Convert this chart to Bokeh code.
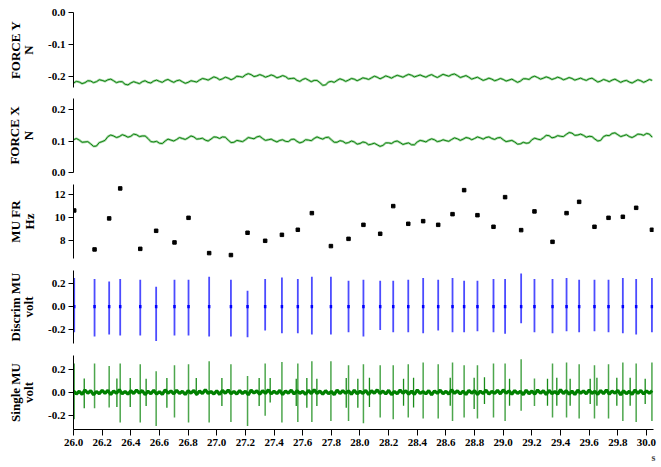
from bokeh.plotting import figure
from bokeh.layouts import column
from bokeh.models import Range1d, FixedTicker, PrintfTickFormatter, ColumnDataSource
from bokeh.embed import file_html
from bokeh.resources import INLINE

# ---------------- data ----------------
X_TICKS = [26.0, 26.2, 26.4, 26.6, 26.8, 27.0, 27.2, 27.4, 27.6, 27.8, 28.0,
           28.2, 28.4, 28.6, 28.8, 29.0, 29.2, 29.4, 29.6, 29.8, 30.0]

FORCE_T0 = 26.0
FORCE_DT = 0.02
force_y = [-0.219, -0.214, -0.216, -0.221, -0.218, -0.212, -0.213, -0.218, -0.215, -0.209,
           -0.211, -0.214, -0.209, -0.207, -0.212, -0.218, -0.215, -0.215, -0.223, -0.225,
           -0.219, -0.215, -0.218, -0.221, -0.215, -0.212, -0.217, -0.219, -0.213, -0.210,
           -0.214, -0.217, -0.211, -0.208, -0.213, -0.217, -0.212, -0.210, -0.215, -0.220,
           -0.217, -0.212, -0.214, -0.216, -0.210, -0.205, -0.207, -0.210, -0.205, -0.200,
           -0.203, -0.209, -0.206, -0.201, -0.204, -0.209, -0.205, -0.198, -0.199, -0.201,
           -0.194, -0.190, -0.193, -0.199, -0.197, -0.193, -0.196, -0.201, -0.198, -0.194,
           -0.197, -0.203, -0.200, -0.196, -0.199, -0.206, -0.205, -0.204, -0.211, -0.214,
           -0.208, -0.205, -0.210, -0.215, -0.211, -0.211, -0.218, -0.226, -0.225, -0.216,
           -0.214, -0.217, -0.211, -0.206, -0.209, -0.214, -0.210, -0.205, -0.207, -0.212,
           -0.208, -0.203, -0.205, -0.208, -0.203, -0.198, -0.201, -0.206, -0.202, -0.197,
           -0.200, -0.204, -0.199, -0.195, -0.198, -0.201, -0.196, -0.192, -0.195, -0.200,
           -0.197, -0.194, -0.198, -0.201, -0.196, -0.193, -0.198, -0.202, -0.197, -0.192,
           -0.195, -0.198, -0.193, -0.191, -0.196, -0.202, -0.199, -0.196, -0.201, -0.207,
           -0.204, -0.201, -0.206, -0.211, -0.208, -0.204, -0.207, -0.212, -0.209, -0.205,
           -0.208, -0.213, -0.210, -0.207, -0.212, -0.217, -0.213, -0.206, -0.206, -0.208,
           -0.201, -0.198, -0.202, -0.207, -0.204, -0.200, -0.203, -0.208, -0.205, -0.201,
           -0.204, -0.209, -0.206, -0.202, -0.205, -0.210, -0.207, -0.204, -0.208, -0.211,
           -0.206, -0.204, -0.210, -0.216, -0.213, -0.208, -0.211, -0.215, -0.210, -0.207,
           -0.212, -0.217, -0.213, -0.211, -0.216, -0.219, -0.214, -0.209, -0.212, -0.217,
           -0.213, -0.208, -0.211]
force_x = [0.104, 0.108, 0.103, 0.096, 0.097, 0.098, 0.091, 0.083, 0.084, 0.095,
           0.098, 0.102, 0.114, 0.119, 0.116, 0.111, 0.114, 0.120, 0.117, 0.112,
           0.115, 0.122, 0.120, 0.114, 0.116, 0.116, 0.108, 0.098, 0.097, 0.099,
           0.093, 0.092, 0.100, 0.106, 0.103, 0.100, 0.105, 0.111, 0.108, 0.105,
           0.110, 0.116, 0.113, 0.106, 0.107, 0.109, 0.103, 0.100, 0.106, 0.113,
           0.112, 0.108, 0.113, 0.112, 0.103, 0.095, 0.096, 0.102, 0.100, 0.098,
           0.104, 0.111, 0.109, 0.107, 0.113, 0.115, 0.108, 0.102, 0.104, 0.106,
           0.101, 0.097, 0.102, 0.104, 0.099, 0.098, 0.105, 0.106, 0.099, 0.094,
           0.097, 0.104, 0.103, 0.101, 0.108, 0.113, 0.109, 0.106, 0.111, 0.112,
           0.104, 0.096, 0.096, 0.101, 0.099, 0.093, 0.095, 0.100, 0.097, 0.090,
           0.092, 0.097, 0.095, 0.088, 0.090, 0.093, 0.088, 0.083, 0.086, 0.094,
           0.094, 0.092, 0.098, 0.100, 0.095, 0.089, 0.092, 0.094, 0.088, 0.088,
           0.097, 0.102, 0.100, 0.097, 0.103, 0.107, 0.104, 0.098, 0.100, 0.104,
           0.101, 0.099, 0.105, 0.110, 0.107, 0.102, 0.106, 0.111, 0.109, 0.104,
           0.108, 0.113, 0.110, 0.106, 0.111, 0.113, 0.108, 0.105, 0.110, 0.111,
           0.104, 0.098, 0.100, 0.102, 0.097, 0.090, 0.091, 0.096, 0.093, 0.094,
           0.104, 0.109, 0.106, 0.104, 0.110, 0.118, 0.117, 0.110, 0.112, 0.117,
           0.115, 0.114, 0.121, 0.127, 0.125, 0.118, 0.119, 0.122, 0.118, 0.112,
           0.115, 0.114, 0.106, 0.100, 0.102, 0.114, 0.118, 0.117, 0.124, 0.126,
           0.120, 0.114, 0.117, 0.120, 0.114, 0.111, 0.116, 0.122, 0.121, 0.118,
           0.124, 0.122, 0.112]

# firing times of the discriminated motor unit (s)
mu_times = [26.005, 26.147, 26.249, 26.326, 26.466, 26.577, 26.705, 26.803, 26.947, 27.099,
            27.215, 27.338, 27.455, 27.566, 27.664, 27.797, 27.920, 28.024, 28.141, 28.232,
            28.337, 28.441, 28.546, 28.646, 28.727, 28.820, 28.932, 29.013, 29.125, 29.218,
            29.344, 29.442, 29.530, 29.637, 29.735, 29.835, 29.928, 30.038]
# instantaneous firing rate (Hz)
mu_rate = [10.64, 7.25, 9.95, 12.56, 7.30, 8.87, 7.86, 10.00, 6.93, 6.76,
           8.70, 8.00, 8.52, 8.96, 10.41, 7.54, 8.17, 9.39, 8.61, 11.02,
           9.48, 9.71, 9.39, 10.32, 12.41, 10.23, 9.22, 11.80, 8.93, 10.56,
           7.91, 10.41, 11.39, 9.22, 10.00, 10.09, 10.87, 8.96]
# discriminated MU spike extents (volt)
discrim_top = [0.250, 0.241, 0.220, 0.241, 0.235, 0.174, 0.235, 0.235, 0.261, 0.235,
               0.139, 0.241, 0.255, 0.241, 0.261, 0.261, 0.226, 0.235, 0.226, 0.226,
               0.235, 0.250, 0.235, 0.250, 0.226, 0.226, 0.241, 0.241, 0.290, 0.241,
               0.241, 0.250, 0.235, 0.235, 0.235, 0.250, 0.241, 0.250]
discrim_bot = [-0.223, -0.261, -0.243, -0.252, -0.252, -0.301, -0.252, -0.252, -0.261, -0.261,
               -0.267, -0.209, -0.232, -0.232, -0.243, -0.243, -0.223, -0.261, -0.203, -0.223,
               -0.223, -0.232, -0.209, -0.223, -0.223, -0.215, -0.223, -0.237, -0.145, -0.223,
               -0.232, -0.215, -0.223, -0.215, -0.223, -0.232, -0.243, -0.223]
# single MU recording: main-unit spike extents (volt)
single_top = [0.250, 0.250, 0.229, 0.250, 0.244, 0.182, 0.235, 0.244, 0.270, 0.244,
              0.141, 0.250, 0.264, 0.250, 0.270, 0.270, 0.235, 0.244, 0.235, 0.235,
              0.244, 0.259, 0.244, 0.259, 0.235, 0.235, 0.250, 0.250, 0.288, 0.120,
              0.250, 0.259, 0.244, 0.235, 0.244, 0.259, 0.250, 0.259]
single_bot = [-0.235, -0.140, -0.132, -0.264, -0.264, -0.293, -0.220, -0.264, -0.264, -0.258,
              -0.293, -0.205, -0.264, -0.258, -0.258, -0.249, -0.249, -0.270, -0.220, -0.235,
              -0.220, -0.229, -0.229, -0.249, -0.220, -0.229, -0.220, -0.249, -0.161, -0.120,
              -0.220, -0.220, -0.229, -0.229, -0.229, -0.249, -0.258, -0.249]
# smaller spikes of other units in the single MU recording
other_times = [26.075, 26.303, 26.396, 26.507, 26.652, 26.857, 27.036, 27.296, 27.373, 27.555,
               27.629, 27.699, 27.904, 27.985, 28.066, 28.304, 28.374, 28.630, 28.797, 28.869,
               29.044, 29.309, 29.374, 29.467, 29.607, 29.654, 29.793, 29.886, 29.991]
other_top = [0.120, 0.120, 0.125, 0.118, 0.125, 0.125, 0.125, 0.125, 0.125, 0.118,
             0.125, 0.118, 0.125, 0.118, 0.127, 0.118, 0.127, 0.127, 0.127, 0.130,
             0.118, 0.118, 0.127, 0.118, 0.118, 0.127, 0.127, 0.127, 0.118]
other_bot = [-0.140, -0.128, -0.128, -0.120, -0.135, -0.030, -0.120, -0.120, -0.090, -0.120,
             -0.135, -0.120, -0.135, -0.135, -0.128, -0.117, -0.132, -0.117, -0.145, -0.102,
             -0.117, -0.117, -0.117, -0.117, -0.102, -0.117, -0.117, -0.117, -0.102]
# baseline noise of the single MU recording (thousandths of a volt)
NOISE_T0 = 26.0
NOISE_DT = 0.02
noise_mv = [12, -15, 9, -18, 20, -8, 14, -22, 7, -12, 18, -10, 16, -20, 11, -9, 22, -14, 8, -17,
            13, -11, 19, -7, 15, -21, 10, -13, 17, -16, 6, -19, 21, -9, 12, -14, 18, -11, 9, -20,
            14, -8, 16, -18, 11, -12, 23, -10, 7, -15, 13, -19, 17, -9, 20, -13, 8, -16, 15, -11,
            10, -22, 18, -7, 12, -17, 14, -10, 21, -14, 9, -12, 16, -20, 11, -8, 19, -15, 13, -9,
            7, -18, 17, -12, 22, -10, 10, -16, 14, -13, 8, -21, 20, -11, 15, -9, 12, -17, 18, -14,
            9, -10, 16, -19, 13, -8, 21, -12, 11, -15, 17, -20, 8, -13, 19, -9, 14, -16, 10, -18,
            20, -11, 7, -14, 15, -22, 12, -9, 18, -13, 9, -17, 22, -10, 13, -15, 11, -19, 16, -8,
            14, -20, 10, -12, 19, -16, 8, -11, 17, -14, 21, -9, 12, -18, 15, -10, 9, -21, 18, -13,
            11, -16, 20, -8, 13, -19, 16, -12, 7, -15, 22, -11, 14, -17, 10, -20, 18, -9, 12, -14,
            19, -10, 9, -18, 15, -13, 21, -16, 11, -8, 17, -22, 13, -12, 8, -19, 20, -11, 16, -15,
            12, -9, 14]

# ---------------- styling ----------------
SERIF = "Liberation Serif"
GREEN = "#0f800f"
HALO = "#7cc47c"
SPIKE_GREEN = "#008000"
BLUE = "#0000ff"

force_t = [round(FORCE_T0 + FORCE_DT * i, 3) for i in range(len(force_y))]
noise_t = [round(NOISE_T0 + NOISE_DT * i, 3) for i in range(len(noise_mv))]
noise_v = [v / 1000.0 for v in noise_mv]

x_range = Range1d(26.0, 30.049)


def make_fig(height, y_range, yticks, fmt, label, standoff, top, bottom, has_x=False):
    p = figure(width=661, height=height, x_range=x_range, y_range=y_range,
               output_backend="svg", toolbar_location=None,
               x_axis_location="below" if has_x else None,
               min_border_left=73, min_border_right=8,
               min_border_top=top, min_border_bottom=bottom)
    p.grid.visible = False
    p.outline_line_color = None
    ax = p.yaxis[0]
    ax.ticker = FixedTicker(ticks=yticks, minor_ticks=[])
    ax.formatter = PrintfTickFormatter(format=fmt)
    ax.major_tick_out = 5
    ax.major_tick_in = 0
    ax.minor_tick_out = 0
    ax.minor_tick_in = 0
    ax.major_label_standoff = 3
    ax.major_label_text_font = SERIF
    ax.major_label_text_font_style = "bold"
    ax.major_label_text_font_size = "11px"
    ax.major_label_text_color = "black"
    ax.axis_line_color = "black"
    ax.major_tick_line_color = "black"
    ax.axis_label = label
    ax.axis_label_text_font = SERIF
    ax.axis_label_text_font_style = "bold"
    ax.axis_label_text_font_size = "13px"
    ax.axis_label_text_line_height = 0.9
    ax.axis_label_text_color = "black"
    ax.axis_label_standoff = standoff
    if has_x:
        xa = p.xaxis[0]
        xa.ticker = FixedTicker(ticks=X_TICKS, minor_ticks=[])
        xa.formatter = PrintfTickFormatter(format="%.1f")
        xa.major_tick_out = 6
        xa.major_tick_in = 0
        xa.minor_tick_out = 0
        xa.minor_tick_in = 0
        xa.major_label_standoff = 3
        xa.major_label_text_font = SERIF
        xa.major_label_text_font_style = "bold"
        xa.major_label_text_font_size = "11px"
        xa.major_label_text_color = "black"
        xa.axis_line_color = "black"
        xa.major_tick_line_color = "black"
        xa.axis_label = "s"
        xa.axis_label_text_font = SERIF
        xa.axis_label_text_font_style = "bold"
        xa.axis_label_text_font_size = "10px"
        xa.axis_label_standoff = 3
        if "axis_label_align" in xa.properties():
            xa.axis_label_align = "end"
    return p


p1 = make_fig(92, Range1d(-0.233, 0.0), [-0.2, -0.1, 0.0], "%.1f", "FORCE Y\nN", 9, 12, 5)
p1.line(force_t, force_y, line_color=HALO, line_width=2.4, line_alpha=0.7)
p1.line(force_t, force_y, line_color=GREEN, line_width=1.0)

p2 = make_fig(86, Range1d(0.0, 0.235), [0.0, 0.1, 0.2], "%.1f", "FORCE X\nN", 13, 6, 6)
p2.line(force_t, force_x, line_color=HALO, line_width=2.4, line_alpha=0.7)
p2.line(force_t, force_x, line_color=GREEN, line_width=1.0)

p3 = make_fig(86, Range1d(6.46, 12.9), [8, 10, 12], "%d", "MU FR\nHz", 15, 6, 6)
p3.scatter(mu_times, mu_rate, marker="square", size=3.5, fill_color="black", line_color="black")

p4 = make_fig(85, Range1d(-0.322, 0.316), [-0.2, 0.0, 0.2], "%.1f", "Discrim MU\nvolt", 9, 6, 6)
src_d = ColumnDataSource(dict(t=mu_times, top=discrim_top, bot=discrim_bot,
                              zt=[0.015] * len(mu_times), zb=[-0.015] * len(mu_times)))
p4.segment(x0="t", y0="bot", x1="t", y1="top", source=src_d, line_color=BLUE,
           line_width=1.8, line_alpha=0.7)
p4.segment(x0="t", y0="zb", x1="t", y1="zt", source=src_d, line_color=BLUE, line_width=2.5)

p5 = make_fig(117, Range1d(-0.324, 0.32), [-0.2, 0.0, 0.2], "%.1f", "Single MU\nvolt", 9, 6, 37,
              has_x=True)
p5.line(noise_t, noise_v, line_color=SPIKE_GREEN, line_width=3.2)
p5.segment(x0=other_times, y0=other_bot, x1=other_times, y1=other_top,
           line_color=SPIKE_GREEN, line_width=1.3, line_alpha=0.9)
p5.segment(x0=mu_times, y0=single_bot, x1=mu_times, y1=single_top,
           line_color=SPIKE_GREEN, line_width=1.5, line_alpha=0.7)

layout = column(p1, p2, p3, p4, p5, spacing=0)
open("out.html", "w").write(file_html(layout, INLINE))
